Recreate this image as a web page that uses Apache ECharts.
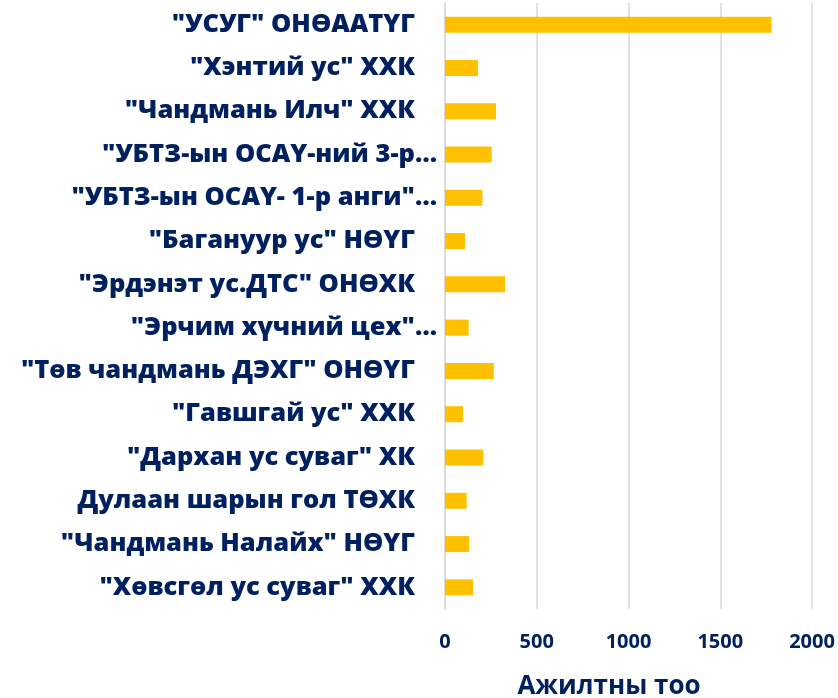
<!DOCTYPE html>
<html>
<head>
<meta charset="utf-8">
<script src="https://cdn.jsdelivr.net/npm/echarts@6/dist/echarts.min.js"></script>
<style>
  html, body { margin: 0; padding: 0; background: #fff; }
  #chart { width: 838px; height: 698px; }
</style>
</head>
<body>
<div id="chart"></div>
<script>
// байгууллагууд (дээрээс доош)
var categories = [
    '"УСУГ" ОНӨААТҮГ',
    '"Хэнтий ус" ХХК',
    '"Чандмань Илч" ХХК',
    '"УБТЗ-ын ОСАҮ-ний 3-р…',
    '"УБТЗ-ын ОСАҮ- 1-р анги"…',
    '"Багануур ус" НӨҮГ',
    '"Эрдэнэт ус.ДТС" ОНӨХК',
    '"Эрчим хүчний цех"…',
    '"Төв чандмань ДЭХГ" ОНӨҮГ',
    '"Гавшгай ус" ХХК',
    '"Дархан ус суваг" ХК',
    'Дулаан шарын гол ТӨХК',
    '"Чандмань Налайх" НӨҮГ',
    '"Хөвсгөл ус суваг" ХХК'
];
// ажилтны тоо
var workers = [1780, 180, 278, 255, 204, 109, 327, 129, 266, 98, 209, 118, 131, 153];
var xTicks = [0, 500, 1000, 1500, 2000];

var navy = '#002060';
var font = '"Open Sans", "Noto Sans", sans-serif';

var chart = echarts.init(document.getElementById('chart'));

var option = {
    animation: false,
    grid: {
        left: 445,
        right: 26,
        top: 3,
        bottom: 89,
        outerBoundsMode: 'none'
    },
    xAxis: {
        type: 'value',
        min: xTicks[0],
        max: xTicks[xTicks.length - 1],
        interval: xTicks[1] - xTicks[0],
        name: 'Ажилтны тоо',
        nameLocation: 'middle',
        nameGap: 65,
        nameTextStyle: {
            color: navy,
            fontFamily: font,
            fontWeight: 'bold',
            fontSize: 26,
            padding: [0, 39, 0, 0]
        },
        axisLine: { show: false },
        axisTick: { show: false },
        axisLabel: {
            color: navy,
            fontFamily: font,
            fontWeight: 'bold',
            fontSize: 20,
            margin: 23,
            formatter: function (v) { return String(v); }
        },
        splitLine: {
            lineStyle: { color: '#d9d9d9', width: 1.5 }
        }
    },
    yAxis: {
        type: 'category',
        data: categories,
        inverse: true,
        axisLine: {
            lineStyle: { color: '#d9d9d9', width: 1.5 }
        },
        axisTick: { show: false },
        axisLabel: {
            margin: 8,
            color: navy,
            formatter: function (v) {
                // таслагдаагүй нэрс арай зүүн тийш байрлана
                return v.slice(-1) === '…' ? '{e|' + v + '}' : '{n|' + v + '}';
            },
            rich: {
                e: { color: navy, fontFamily: font, fontWeight: 800, fontSize: 25.5 },
                n: { color: navy, fontFamily: font, fontWeight: 800, fontSize: 25.5, padding: [0, 22, 0, 0] }
            }
        }
    },
    series: [{
        type: 'bar',
        data: workers,
        barWidth: 16,
        itemStyle: { color: '#ffc000' }
    }]
};

chart.setOption(option);
</script>
</body>
</html>
